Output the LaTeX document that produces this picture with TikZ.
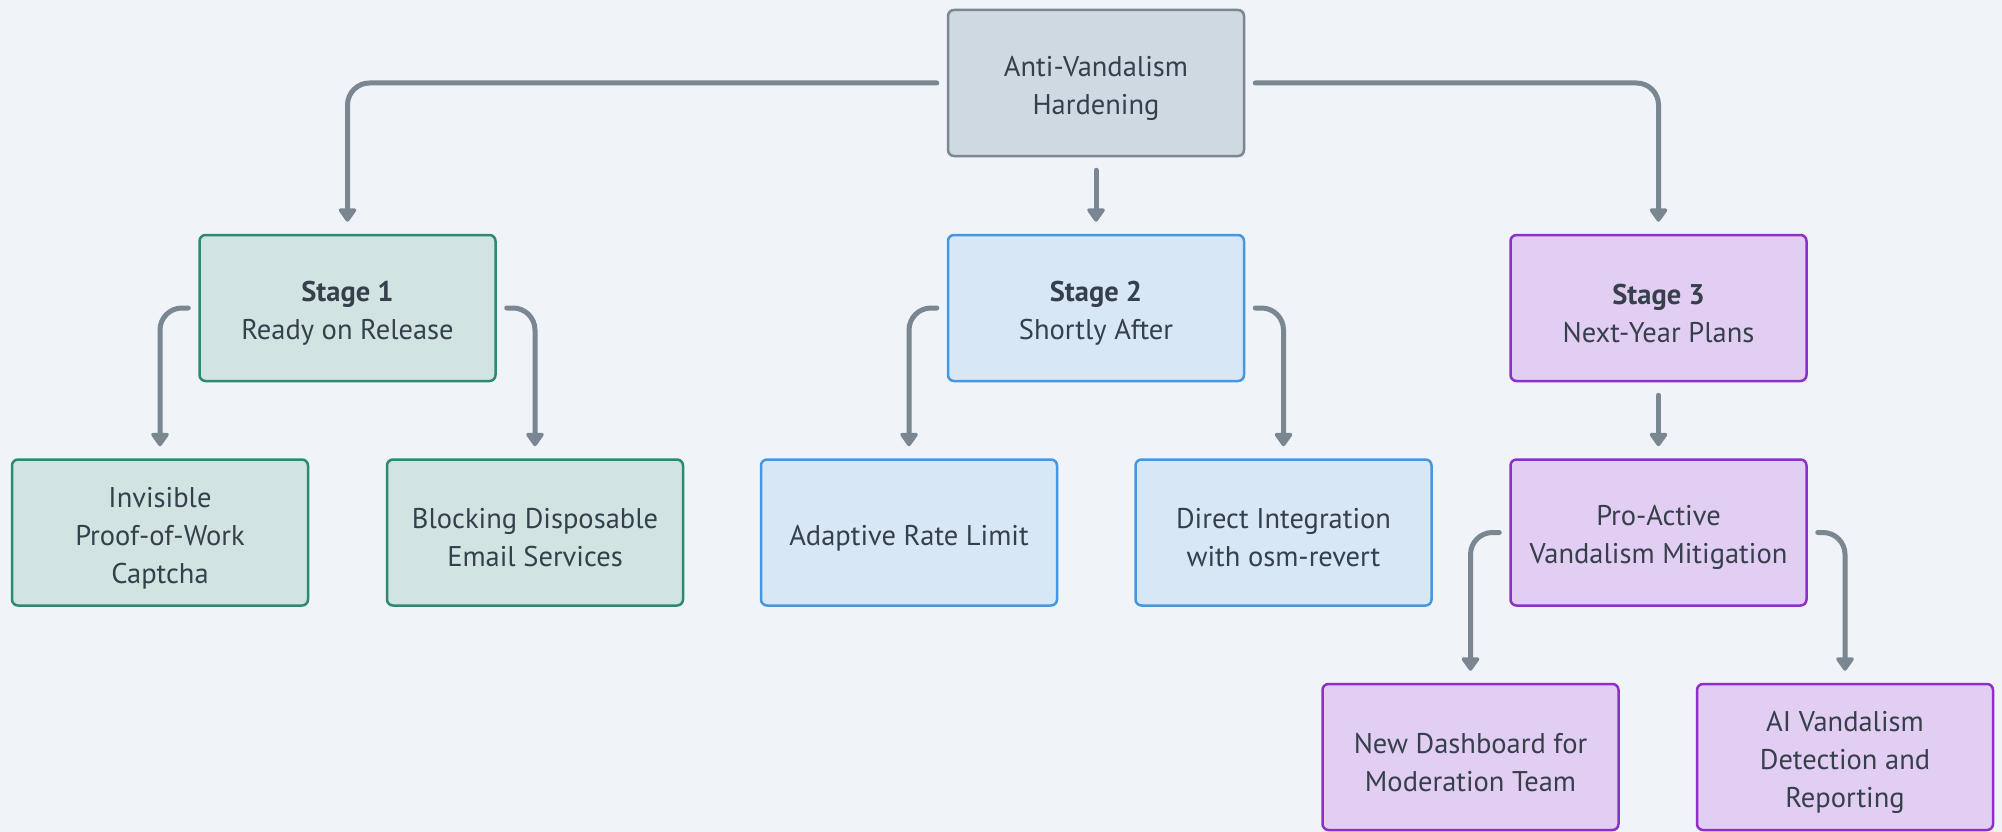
\documentclass[tikz,border=0pt]{standalone}
\usepackage{fontspec}
\setmainfont{PT Sans}
\usetikzlibrary{arrows.meta}
\definecolor{bg}{HTML}{F0F3F7}
\definecolor{txt}{HTML}{36404C}
\definecolor{arr}{HTML}{7A8691}
\definecolor{rootfill}{HTML}{CFD9E1}
\definecolor{rootdraw}{HTML}{7D8792}
\definecolor{afill}{HTML}{D2E4E1}
\definecolor{adraw}{HTML}{2C8A6E}
\definecolor{bfill}{HTML}{D7E7F5}
\definecolor{bdraw}{HTML}{4598E0}
\definecolor{cfill}{HTML}{E2CEF2}
\definecolor{cdraw}{HTML}{8E30C8}
\newcommand{\topstrut}{\rule{0pt}{31pt}}
\tikzset{
  box/.style={rectangle, rounded corners=6pt, line width=2.5pt, minimum width=296pt, minimum height=146pt, inner sep=0pt, align=center, text=txt, font=\fontsize{28.5}{38}\selectfont},
  rootbox/.style={box, fill=rootfill, draw=rootdraw},
  abox/.style={box, fill=afill, draw=adraw},
  bbox/.style={box, fill=bfill, draw=bdraw},
  cbox/.style={box, fill=cfill, draw=cdraw},
  conn/.style={draw=arr, line width=5pt, rounded corners=22pt, line cap=round, -{Triangle[width=20pt,length=15pt,round]}, shorten <=10pt, shorten >=12pt}
}
\begin{document}
\begin{tikzpicture}[x=1pt,y=-1pt]
\fill[bg] (0,0) rectangle (2002,832);
\useasboundingbox (0,0) rectangle (2002,832);
\node[rootbox] (root) at (1096,83) {\topstrut Anti-Vandalism\\Hardening};
\node[abox] (s1) at (347.5,308) {\topstrut\textbf{Stage 1}\\Ready on Release};
\node[bbox] (s2) at (1096,308) {\topstrut\textbf{Stage 2}\\Shortly After};
\node[cbox] (s3) at (1658.5,308) {\topstrut\textbf{Stage 3}\\Next-Year Plans};
\node[abox] (inv) at (160,532.5) {\topstrut Invisible\\Proof-of-Work\\Captcha};
\node[abox] (blk) at (535,532.5) {\topstrut Blocking Disposable\\Email Services};
\node[bbox] (ada) at (909,532.5) {\topstrut Adaptive Rate Limit};
\node[bbox] (dir) at (1283.5,532.5) {\topstrut Direct Integration\\with osm-revert};
\node[cbox] (pro) at (1658.5,532.5) {\topstrut Pro-Active\\Vandalism Mitigation};
\node[cbox] (dash) at (1470.5,757) {\topstrut New Dashboard for\\Moderation Team};
\node[cbox] (ai) at (1845,757) {\topstrut AI Vandalism\\Detection and\\Reporting};
\draw[conn] (root.west) -| (s1.north);
\draw[conn] (root.east) -| (s3.north);
\draw[conn, shorten <=13pt] (root.south) -- (s2.north);
\draw[conn] (s1.west) -| (inv.north);
\draw[conn] (s1.east) -| (blk.north);
\draw[conn] (s2.west) -| (ada.north);
\draw[conn] (s2.east) -| (dir.north);
\draw[conn, shorten <=13pt] (s3.south) -- (pro.north);
\draw[conn] (pro.west) -| (dash.north);
\draw[conn] (pro.east) -| (ai.north);
\end{tikzpicture}
\end{document}
